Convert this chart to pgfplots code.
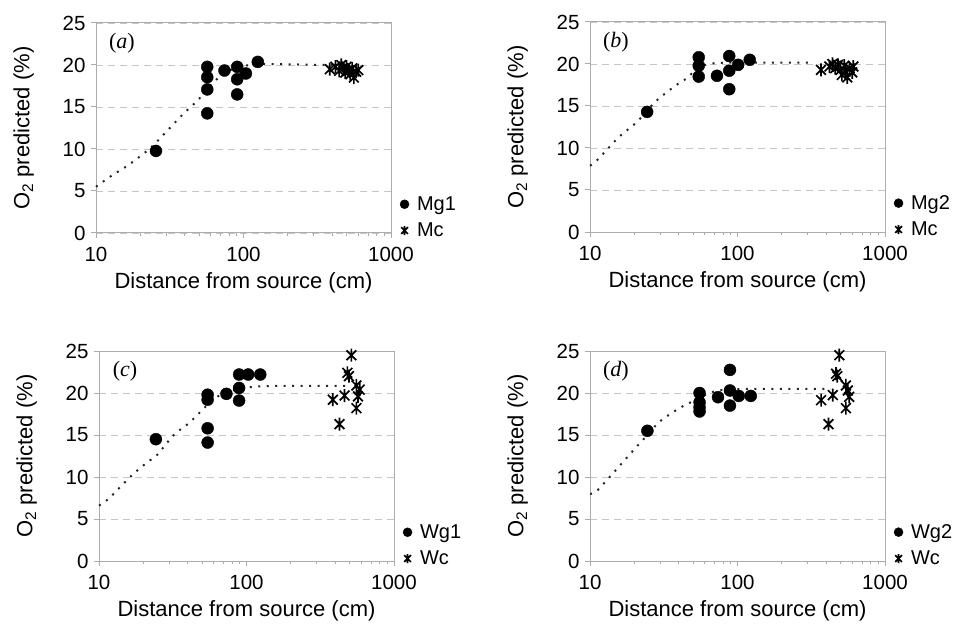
\documentclass[border=0pt]{standalone}
\usepackage{pgfplots}
\pgfplotsset{compat=1.18}
\usepackage{fontspec}
\setmainfont{Liberation Sans}
\newfontfamily\seriffont{Liberation Serif}

% Excel-like star: an X with a vertical bar
\pgfdeclareplotmark{xstar}{%
  \pgfpathmoveto{\pgfqpoint{-0.75\pgfplotmarksize}{-0.75\pgfplotmarksize}}%
  \pgfpathlineto{\pgfqpoint{0.75\pgfplotmarksize}{0.75\pgfplotmarksize}}%
  \pgfpathmoveto{\pgfqpoint{-0.75\pgfplotmarksize}{0.75\pgfplotmarksize}}%
  \pgfpathlineto{\pgfqpoint{0.75\pgfplotmarksize}{-0.75\pgfplotmarksize}}%
  \pgfpathmoveto{\pgfqpoint{0pt}{-\pgfplotmarksize}}%
  \pgfpathlineto{\pgfqpoint{0pt}{\pgfplotmarksize}}%
  \pgfusepathqstroke}

\pgfkeys{/pgf/number format/assume math mode=true}
\pgfplotsset{
  every axis/.append style={
    scale only axis, width=295pt, height=210pt,
    xmin=10, xmax=1000, ymin=0, ymax=25,
    xtick={10,100,1000}, xticklabels={10,100,1000},
    ytick={0,5,10,15,20,25},
    axis line style={gray!65, line width=1pt},
    tick style={gray!65, line width=1pt},
    tick align=outside, major tick length=5pt,
    xtick pos=bottom, ytick pos=left,
    ymajorgrids,
    grid style={gray!45, dash pattern=on 7pt off 5pt, line width=0.9pt},
    tick label style={font=\fontsize{20.5}{24}\selectfont},
    xticklabel style={yshift=-6pt},
    yticklabel style={xshift=-2pt},
    label style={font=\fontsize{22}{26}\selectfont},
    xlabel={Distance from source (cm)},
    ylabel={O\textsubscript{2} predicted (\%)},
    xlabel style={at={(axis description cs:0.5,-0.235)}, anchor=center},
    ylabel style={at={(axis description cs:-0.245,0.5)}, anchor=center},
    legend style={at={(1.03,-0.035)}, anchor=south west, draw=none, fill=none,
      font=\fontsize{20}{24}\selectfont, row sep=7pt, inner sep=0pt},
    legend cell align=left,
    legend image post style={mark size=4.5pt},
    clip=false,
  },
  o2fit/.style={black!85, line width=2pt, dash pattern=on 2pt off 6.5pt, smooth, tension=0.5, no markers, forget plot},
  o2g/.style={only marks, mark=*, mark size=6pt, black},
  o2c/.style={only marks, mark=xstar, mark size=6.5pt, black, line width=1.7pt},
}

\begin{document}
\begin{tikzpicture}
\useasboundingbox (0pt,0pt) rectangle (967pt,633pt);

% (a)
\begin{semilogxaxis}[at={(96pt,400pt)}, anchor=south west]
\addplot[o2fit] coordinates {
  (10,5.5) (12.5,6.72) (16.6,8.1) (23.3,10.1) (30.5,12.2) (39.2,14.2)
  (49.6,15.9) (56.4,17.1) (65.9,18.3) (77,19.2) (95,19.8) (125,20.1)
  (180,20.1) (250,20.05) (400,20.0)
};
\addplot[o2g] coordinates {
  (25.5,9.77) (56.8,19.78) (56.8,18.55) (56.8,17.09) (56.8,14.24) (74.3,19.34)
  (90.6,19.78) (90.6,18.3) (90.6,16.5) (103.8,18.99) (125,20.37)
};
\addlegendentry{\hspace{6pt}Mg1}
\addplot[o2c] coordinates {
  (385,19.5) (420,19.8) (445,19.3) (460,20.0) (475,19.6) (490,19.1) (500,19.8)
  (515,19.4) (530,18.9) (545,19.6) (560,18.5) (580,19.2) (600,19.4)
};
\addlegendentry{\hspace{6pt}Mc}
\node[font=\seriffont\fontsize{22}{26}\selectfont] at (axis description cs:0.088,0.905) {(\textit{a})};
\end{semilogxaxis}

% (b)
\begin{semilogxaxis}[at={(590pt,401pt)}, anchor=south west]
\addplot[o2fit] coordinates {
  (10,7.9) (11.2,8.57) (15.7,11.3) (20.8,13.1) (27.7,15.5) (37.8,17.4)
  (45.3,18.3) (54.6,19.6) (70,20.1) (100,20.15) (200,20.15) (330,20.15)
};
\addplot[o2g] coordinates {
  (24.4,14.3) (54.6,20.8) (54.6,19.8) (54.6,18.5) (72.6,18.6)
  (87.9,20.95) (87.9,19.2) (87.9,17.0) (101,19.9) (121,20.5)
};
\addlegendentry{\hspace{6pt}Mg2}
\addplot[o2c] coordinates {
  (368,19.3) (420,19.7) (440,20.0) (460,19.5) (480,19.9) (500,19.3) (510,18.7)
  (530,19.8) (540,19.1) (555,18.4) (575,19.5) (600,19.0) (610,19.7)
};
\addlegendentry{\hspace{6pt}Mc}
\node[font=\seriffont\fontsize{22}{26}\selectfont] at (axis description cs:0.088,0.905) {(\textit{b})};
\end{semilogxaxis}

% (c)
\begin{semilogxaxis}[at={(99pt,72pt)}, anchor=south west]
\addplot[o2fit] coordinates {
  (10,6.6) (11.6,7.4) (16.7,10.2) (21.4,11.8) (24.7,12.6) (32.1,15.0)
  (40.6,16.4) (54.5,18.6) (66.8,19.8) (85,20.4) (124,20.8) (250,20.85) (470,20.85)
};
\addplot[o2g] coordinates {
  (24.3,14.5) (54.5,19.8) (54.5,19.2) (54.5,15.8) (54.5,14.1) (73.1,19.9)
  (89.1,22.2) (89.1,20.6) (89.1,19.1) (102.6,22.2) (124,22.2)
};
\addlegendentry{\hspace{6pt}Wg1}
\addplot[o2c] coordinates {
  (385,19.2) (427,16.3) (462,19.7) (483,22.4) (495,22.0) (514,24.5)
  (556,20.9) (585,20.4) (570,19.6) (556,18.2)
};
\addlegendentry{\hspace{6pt}Wc}
\node[font=\seriffont\fontsize{22}{26}\selectfont] at (axis description cs:0.088,0.905) {(\textit{c})};
\end{semilogxaxis}

% (d)
\begin{semilogxaxis}[at={(590pt,72pt)}, anchor=south west]
\addplot[o2fit] coordinates {
  (10,8.0) (11.2,8.4) (16,11.4) (20.7,13.6) (24.5,15.0) (29.7,16.6)
  (40.4,18.2) (52.4,19.2) (64.3,20.0) (83,20.4) (130,20.5) (250,20.5) (430,20.5)
};
\addplot[o2g] coordinates {
  (24.5,15.5) (55.3,20.0) (55.3,18.9) (55.3,18.3) (55.3,17.8) (73.8,19.5)
  (88.9,22.75) (88.9,20.3) (88.9,18.5) (102,19.65) (123,19.65)
};
\addlegendentry{\hspace{6pt}Wg2}
\addplot[o2c] coordinates {
  (369,19.15) (414,16.3) (443,19.75) (466,22.3) (475,22.0) (490,24.5)
  (543,20.9) (572,19.55) (543,18.2) (560,20.3)
};
\addlegendentry{\hspace{6pt}Wc}
\node[font=\seriffont\fontsize{22}{26}\selectfont] at (axis description cs:0.088,0.905) {(\textit{d})};
\end{semilogxaxis}
\end{tikzpicture}
\end{document}
